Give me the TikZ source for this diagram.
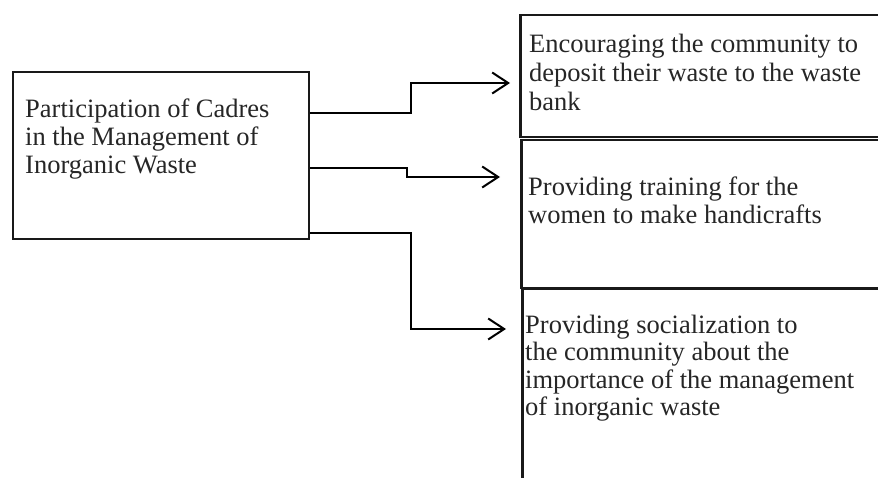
\documentclass[tikz,border=0pt]{standalone}
\usepackage{fontspec}
\setmainfont{Liberation Serif}
\usetikzlibrary{arrows.meta}
\tikzset{
  box/.style={draw=black!90, line width=2pt, rectangle, inner sep=0pt, anchor=north west},
  rbox/.style={box, line width=2.5pt},
  txt/.style={anchor=north west, inner sep=0pt, align=left, text=black!85},
  arr/.style={line width=2pt, -{Straight Barb[length=16pt,width=21pt,line width=2pt]}},
}
\begin{document}
\begin{tikzpicture}[x=1pt,y=-1pt]
\useasboundingbox (0,0) rectangle (878,478);
\clip (0,0) rectangle (878,478);
\node[box, minimum width=296pt, minimum height=167pt] (L) at (12,71) {};
\node[rbox, minimum width=400pt, minimum height=122pt] (R1) at (519,14) {};
\node[rbox, minimum width=400pt, minimum height=148pt] (R2) at (520,139) {};
\node[rbox, minimum width=400pt, minimum height=220pt] (R3) at (521,288) {};
\node[txt, font=\fontsize{26.5}{28}\selectfont] (tL) at (25,99) {Participation of Cadres\\in the Management of\\Inorganic Waste};
\node[txt, font=\fontsize{26.5}{29}\selectfont] (t1) at (529,34) {Encouraging the community to\\deposit their waste to the waste\\bank};
\node[txt, font=\fontsize{26.5}{28}\selectfont] (t2) at (528,177) {Providing training for the\\women to make handicrafts};
\node[txt, font=\fontsize{26.5}{27.3}\selectfont] (t3) at (525,315) {Providing socialization to\\the community about the\\importance of the management\\of inorganic waste};
\coordinate (e1) at ([xshift=-9pt]R1.west |- 0,83);
\coordinate (e2) at ([xshift=-20pt]R2.west |- 0,177);
\coordinate (e3) at ([xshift=-15pt]R3.west |- 0,329);
\draw[arr] (L.east |- 0,113) -- (411,113) |- (e1);
\draw[arr] (L.east |- 0,168) -- (407,168) |- (e2);
\draw[arr] (L.east |- 0,233) -- (411,233) |- (e3);
\end{tikzpicture}
\end{document}
